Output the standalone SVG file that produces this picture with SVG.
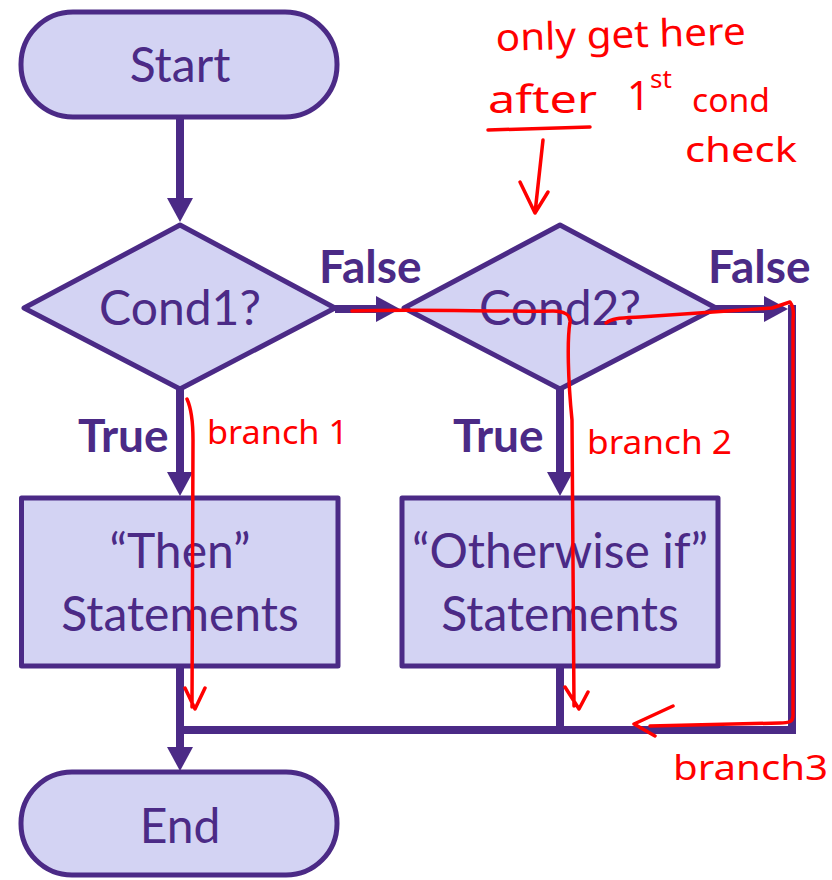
<svg xmlns="http://www.w3.org/2000/svg" width="832" height="880" viewBox="0 0 832 880">
<style>
.node{fill:#D3D3F3;stroke:#4B2A86;stroke-width:5;stroke-linejoin:round}
.nt{font-family:Lato,"Open Sans","Liberation Sans",sans-serif;font-size:48px;fill:#4B2A86;text-anchor:middle}
.lbl{font-family:Lato,"Open Sans","Liberation Sans",sans-serif;font-size:46px;font-weight:bold;fill:#4B2A86}
.conn{fill:none;stroke:#4B2A86;stroke-width:8;stroke-linejoin:miter}
.red{fill:none;stroke:#FF0000;stroke-width:3.5;stroke-linecap:round;stroke-linejoin:round}
.rt{font-family:"Noto Sans","DejaVu Sans",sans-serif;fill:#FF0000}
</style>
<defs>
<marker id="ah" markerUnits="userSpaceOnUse" markerWidth="24" markerHeight="26" refX="4" refY="13" orient="auto" viewBox="0 0 24 26">
<path d="M0,0 L24,13 L0,26 z" fill="#4B2A86"/>
</marker>
</defs>
<rect width="832" height="880" fill="#FFFFFF"/>
<g id="connectors">
<line class="conn" x1="180" y1="117" x2="180" y2="202" marker-end="url(#ah)"/>
<line class="conn" x1="180" y1="389" x2="180" y2="476" marker-end="url(#ah)"/>
<line class="conn" x1="560" y1="389" x2="560" y2="476" marker-end="url(#ah)"/>
<line class="conn" x1="335" y1="309" x2="380" y2="309" marker-end="url(#ah)"/>
<line class="conn" x1="716" y1="309" x2="768" y2="309" marker-end="url(#ah)"/>
<path class="conn" d="M792,305 V730 H176"/>
<line class="conn" x1="560" y1="666" x2="560" y2="730"/>
<line class="conn" x1="180" y1="666" x2="180" y2="751" marker-end="url(#ah)"/>
<text class="lbl" x="319" y="283">False</text>
<text class="lbl" x="708" y="283">False</text>
<text class="lbl" x="78" y="452">True</text>
<text class="lbl" x="453" y="452">True</text>
</g>
<g id="start">
<rect class="node" x="21" y="12" width="316" height="105" rx="52"/>
<text class="nt" x="180" y="82">Start</text>
</g>
<g id="cond1">
<polygon class="node" points="180,225 335,308 180,389 24,308"/>
<text class="nt" x="180" y="325">Cond1?</text>
</g>
<g id="cond2">
<polygon class="node" points="560,225 716,308 560,389 404,308"/>
<text class="nt" x="560" y="325">Cond2?</text>
</g>
<g id="then">
<rect class="node" x="21.5" y="498" width="316.5" height="168"/>
<text class="nt" x="180" y="568">“Then”</text>
<text class="nt" x="180" y="631">Statements</text>
</g>
<g id="otherwise">
<rect class="node" x="402" y="498" width="316" height="168"/>
<text class="nt" x="560" y="568">“Otherwise if”</text>
<text class="nt" x="560" y="631">Statements</text>
</g>
<g id="end">
<rect class="node" x="21" y="772" width="316" height="103" rx="51"/>
<text class="nt" x="180" y="843">End</text>
</g>
<g id="annotations">
<text class="rt" x="496" y="51" font-size="38" textLength="250" lengthAdjust="spacingAndGlyphs" transform="rotate(-1.5 496 51)">only get here</text>
<text class="rt" x="488" y="113" font-size="38" textLength="109" lengthAdjust="spacingAndGlyphs">after</text>
<text class="rt" x="627" y="110" font-size="40">1</text>
<text class="rt" x="650" y="88" font-size="26">st</text>
<text class="rt" x="692" y="112" font-size="32" textLength="78" lengthAdjust="spacingAndGlyphs">cond</text>
<text class="rt" x="685" y="162" font-size="34" textLength="112" lengthAdjust="spacingAndGlyphs">check</text>
<text class="rt" x="207" y="444" font-size="32" textLength="141" lengthAdjust="spacingAndGlyphs">branch 1</text>
<text class="rt" x="587" y="454" font-size="32" textLength="145" lengthAdjust="spacingAndGlyphs">branch 2</text>
<text class="rt" x="673" y="780" font-size="34" textLength="155" lengthAdjust="spacingAndGlyphs">branch3</text>
<path class="red" d="M488,130 L590,127"/>
<path class="red" d="M543,140 L535,213 M520,182 L535,213 L548,192"/>
<path class="red" d="M187,399 C192,410 193,422 193,440 L192,707 M185,688 L195,709 L205,688"/>
<path class="red" d="M352,311 C420,309 500,312 553,311 C564,311 571,315 570,322 C567,340 568,380 572,420 L574,706 M565,687 L579,709 L588,692"/>
<path class="red" d="M606,323 C612,318 620,318 640,317 L772,308 L790,302 C793,306 794,312 793,320 L793,716 C793,722 788,723 780,723 L650,726 M673,706 L634,724 L655,736"/>
</g>
</svg>
